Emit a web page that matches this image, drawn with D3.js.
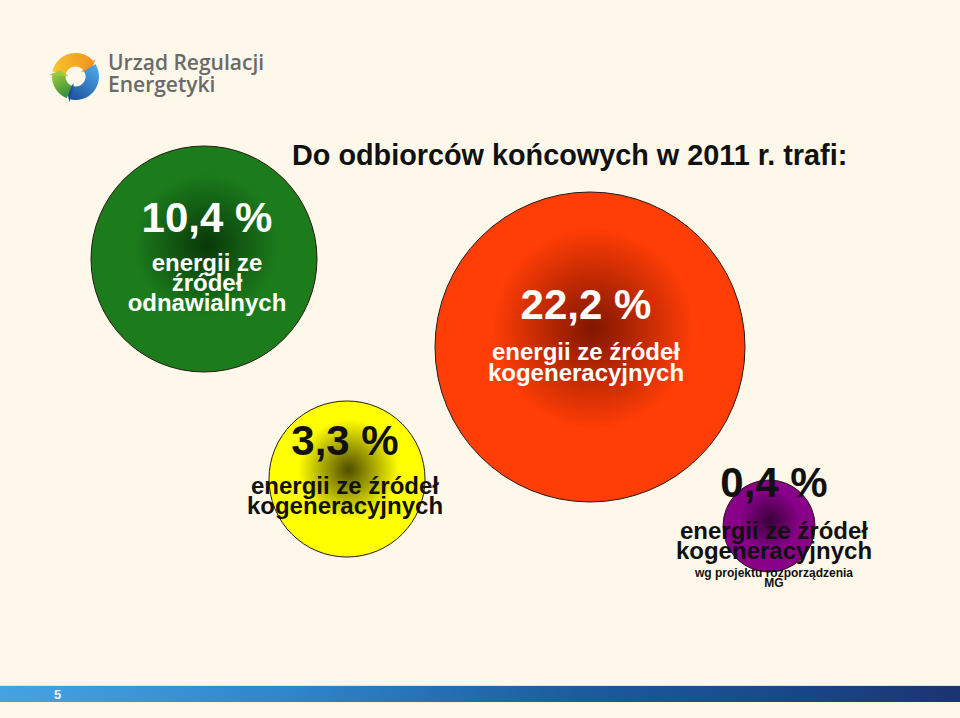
<!DOCTYPE html>
<html><head><meta charset="utf-8">
<script src="https://cdn.jsdelivr.net/npm/d3@7"></script>
<style>html,body{margin:0;padding:0;background:#fdf8e9;}svg{display:block;}</style>
</head><body>
<script>
// ---- data ----
const title = "Do odbiorców końcowych w 2011 r. trafi:";
const categories = ["odnawialne", "kogeneracja", "kogeneracja (3,3)", "kogeneracja MG"];
const values = [10.4, 22.2, 3.3, 0.4];
const valueLabels = ["10,4 %", "22,2 %", "3,3 %", "0,4 %"];
const descLines = [
  ["energii ze", "źródeł", "odnawialnych"],
  ["energii ze źródeł", "kogeneracyjnych"],
  ["energii ze źródeł", "kogeneracyjnych"],
  ["energii ze źródeł", "kogeneracyjnych"]
];
const noteLines = [[], [], [], ["wg projektu rozporządzenia", "MG"]];
const logoLines = ["Urząd Regulacji", "Energetyki"];
const pageNumber = "5";

// ---- styles / layout (not data) ----
const W = 960, H = 718;
const fills = [
  {edge: "#1c7c1c", center: "#093809", text: "#ffffff"},
  {edge: "#ff3d06", center: "#801600", text: "#ffffff"},
  {edge: "#ffff00", center: "#504d00", text: "#111111"},
  {edge: "#870087", center: "#3a003a", text: "#111111"}
];
const layout = [
  {cx: 204, cy: 259, tx: 207, vy: 232, ly: 271, lh: 20},
  {cx: 590, cy: 347, tx: 586, vy: 319, ly: 360, lh: 21},
  {cx: 347, cy: 479, tx: 345, vy: 455, ly: 494, lh: 20},
  {cx: 769, cy: 526, tx: 774, vy: 497, ly: 539, lh: 20, ny: 577, nh: 10}
];
const rScale = d3.scaleLinear().domain([0.4, 3.3, 10.4, 22.2]).range([46, 78, 113, 155]);

const svg = d3.select("body").append("svg").attr("width", W).attr("height", H);
const defs = svg.append("defs");
svg.append("rect").attr("width", W).attr("height", H).attr("fill", "#fdf8e9");

// gradients
values.forEach((v, i) => {
  const g = defs.append("radialGradient").attr("id", "g" + i)
    .attr("cx", "51%").attr("cy", "44%").attr("r", "52%");
  g.append("stop").attr("offset", "0%").attr("stop-color", fills[i].center);
  g.append("stop").attr("offset", "62%").attr("stop-color", fills[i].edge);
  g.append("stop").attr("offset", "100%").attr("stop-color", fills[i].edge);
});

// ---- logo ----
const logo = svg.append("g").attr("transform", "translate(75.5,76.5)");
const arc = d3.arc().innerRadius(10).outerRadius(23.5);
const segs = [
  {a0: -78, a1: 52, c0: "#f6c62a", c1: "#f19420", id: "lo"},
  {a0: 58, a1: 196, c0: "#4eaaea", c1: "#1d4f9c", id: "lb"},
  {a0: 202, a1: 276, c0: "#2e8b3a", c1: "#9ccb3c", id: "lg"}
];
segs.forEach(s => {
  const lg = defs.append("linearGradient").attr("id", s.id)
    .attr("gradientUnits", "userSpaceOnUse")
    .attr("x1", 23 * Math.sin(s.a0 * Math.PI / 180)).attr("y1", -23 * Math.cos(s.a0 * Math.PI / 180))
    .attr("x2", 23 * Math.sin(s.a1 * Math.PI / 180)).attr("y2", -23 * Math.cos(s.a1 * Math.PI / 180));
  lg.append("stop").attr("offset", "0%").attr("stop-color", s.c0);
  lg.append("stop").attr("offset", "100%").attr("stop-color", s.c1);
  logo.append("path")
    .attr("d", arc({startAngle: s.a0 * Math.PI / 180, endAngle: s.a1 * Math.PI / 180}))
    .attr("fill", "url(#" + s.id + ")");
  const a = s.a1 * Math.PI / 180;
  const rIn = 7, rOut = 26.5, tip = 16 * Math.PI / 180;
  const p = (r, ang) => [r * Math.sin(ang), -r * Math.cos(ang)];
  const pts = [p(rIn, a - 0.05), p(rOut, a - 0.05), p(16.75, a + tip)];
  logo.append("path").attr("d", "M" + pts.map(q => q.join(",")).join("L") + "Z").attr("fill", s.c1);
});
svg.append("g").selectAll("text").data(logoLines).join("text")
  .attr("x", 108).attr("y", (d, i) => 70 + i * 22)
  .attr("font-family", "'Open Sans', sans-serif").attr("font-weight", 600)
  .attr("font-size", 21).attr("fill", "#6a6a6a").text(d => d);

// ---- title ----
const font = "'Liberation Sans', Arial, sans-serif";
svg.append("text").attr("x", 292).attr("y", 165)
  .attr("font-family", font).attr("font-weight", "bold")
  .attr("font-size", 28.8).attr("fill", "#111").text(title);

// ---- bubbles ----
const bubbles = svg.append("g").selectAll("g").data(values).join("g");
bubbles.append("circle")
  .attr("cx", (d, i) => layout[i].cx).attr("cy", (d, i) => layout[i].cy)
  .attr("r", d => rScale(d))
  .attr("fill", (d, i) => "url(#g" + i + ")")
  .attr("stroke", "#2a1a10").attr("stroke-width", 1);

bubbles.append("text")
  .attr("x", (d, i) => layout[i].tx).attr("y", (d, i) => layout[i].vy)
  .attr("text-anchor", "middle").attr("font-family", font).attr("font-weight", "bold")
  .attr("font-size", 42).attr("fill", (d, i) => fills[i].text)
  .text((d, i) => valueLabels[i]);
bubbles.each(function(d, i) {
  const g = d3.select(this);
  g.selectAll("text.desc").data(descLines[i]).join("text").attr("class", "desc")
    .attr("x", layout[i].tx).attr("y", (t, j) => layout[i].ly + j * layout[i].lh)
    .attr("text-anchor", "middle").attr("font-family", font).attr("font-weight", "bold")
    .attr("font-size", 24).attr("fill", fills[i].text).text(t => t);
  g.selectAll("text.note").data(noteLines[i]).join("text").attr("class", "note")
    .attr("x", layout[i].tx).attr("y", (t, j) => layout[i].ny + j * layout[i].nh)
    .attr("text-anchor", "middle").attr("font-family", font).attr("font-weight", "bold")
    .attr("font-size", 12).attr("fill", fills[i].text).text(t => t);
});

// ---- footer bar ----
const bg = defs.append("linearGradient").attr("id", "bar").attr("x1", "0%").attr("x2", "100%");
[["0%", "#46a3e2"], ["30%", "#2f86cb"], ["60%", "#1c5c9e"], ["85%", "#1a4486"], ["100%", "#1b3470"]]
  .forEach(s => bg.append("stop").attr("offset", s[0]).attr("stop-color", s[1]));
svg.append("rect").attr("x", 0).attr("y", 685).attr("width", W).attr("height", 1).attr("fill", "#d6e6f2");
svg.append("rect").attr("x", 0).attr("y", 686).attr("width", W).attr("height", 16).attr("fill", "url(#bar)");
svg.append("text").attr("x", 54).attr("y", 699).attr("font-family", font).attr("font-weight", "bold")
  .attr("font-size", 13).attr("fill", "#eef4ff").text(pageNumber);
</script>
</body></html>
